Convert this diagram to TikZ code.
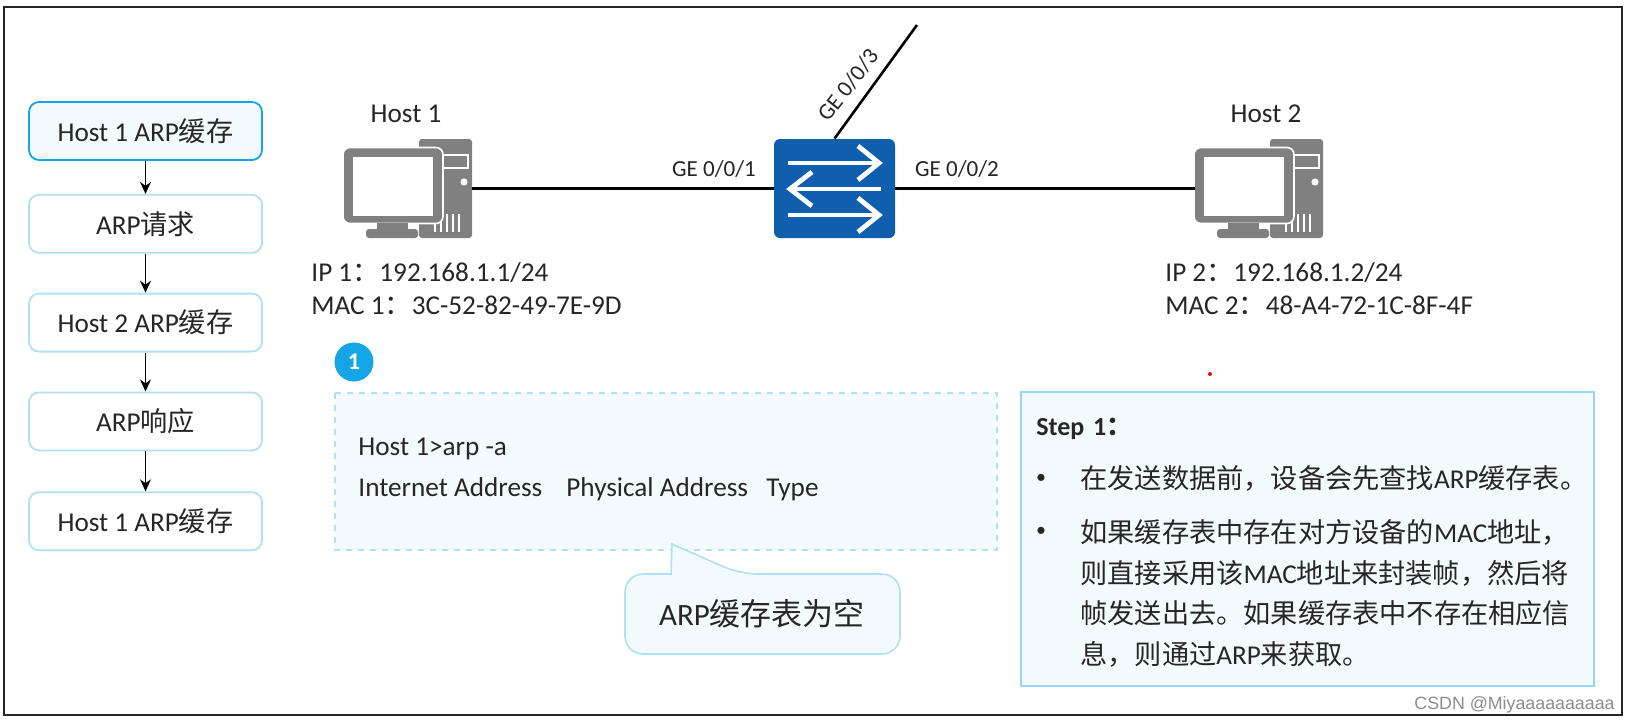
\documentclass[tikz,border=0pt]{standalone}
\usepackage{fontspec}
\setmainfont{Carlito}
\newfontfamily\zh{Noto Sans CJK SC}
\newfontfamily\wm{Liberation Sans}
\usetikzlibrary{arrows.meta, positioning}
\definecolor{skyline}{RGB}{176,224,243}
\definecolor{skyedge}{RGB}{20,165,230}
\definecolor{skyfill}{RGB}{242,250,253}
\definecolor{swblue}{RGB}{15,95,174}
\definecolor{pcgray}{RGB}{128,128,128}
\definecolor{inkgray}{RGB}{38,38,38}
\begin{document}
\begin{tikzpicture}[
        x=0.5pt, y=-0.5pt,
        every node/.style={text=inkgray},
        flow/.style={draw=skyline, line width=0.9pt, rounded corners=5pt, fill=white, minimum width=116.5pt, minimum height=29pt, inner sep=0pt, font=\fontsize{13.6}{16}\selectfont},
        flowon/.style={flow, draw=skyedge, fill=skyfill},
        flowarrow/.style={-{Stealth[length=6pt, width=5.5pt]}, line width=0.7pt, black},
        link/.style={line width=1.3pt, black},
        port/.style={font=\fontsize{11.5}{14}\selectfont},
        label/.style={anchor=west, inner sep=0pt, text height=9.5pt, text depth=3pt, font=\fontsize{13.6}{16}\selectfont},
        stepline/.style={anchor=west, inner sep=0pt, align=left, text width=232pt, font=\fontsize{13.6}{20.25}\selectfont},
        gray part/.style={fill=pcgray, rounded corners=1.5pt, inner sep=0pt},
        swarrow/.style={draw=white, line width=2.4pt},
      ]
      \useasboundingbox (0,0) rectangle (1630,724);
      \draw[line width=1.1pt, black!85] (4,7) rectangle (1622,715);

      % left column
      \node[flowon] (cache1) at (145.5,131) {Host 1 ARP{\zh 缓存}};
      \node[flow] (request) [below=16.5pt of cache1] {ARP{\zh 请求}};
      \node[flow] (cache2) [below=19.5pt of request] {Host 2 ARP{\zh 缓存}};
      \node[flow] (reply) [below=19.5pt of cache2] {ARP{\zh 响应}};
      \node[flow] (cache3) [below=20pt of reply] {Host 1 ARP{\zh 缓存}};
      \draw[flowarrow] (cache1) -- (request);
      \draw[flowarrow] (request) -- (cache2);
      \draw[flowarrow] (cache2) -- (reply);
      \draw[flowarrow] (reply) -- (cache3);

      % the two hosts
      \foreach \n/\dx in {1/0, 2/851} {
        \begin{scope}[shift={(\dx,0)}]
          \node[gray part, minimum width=26.5pt, minimum height=49.5pt] (tower\n) at (445.5,188.5) {};
          \node[gray part, draw=white, line width=0.6pt, rounded corners=0pt, minimum width=12.5pt, minimum height=6.5pt] (bay\n) at (455.5,161.5) {};
          \node[circle, fill=white, inner sep=0pt, minimum size=3.6pt] (led\n) at (464,182) {};
          \foreach \vx in {435,441,447,453,459}
            \draw[white, line width=0.6pt] (\vx,214) -- (\vx,232);
          \node[gray part, draw=white, line width=0.8pt, rounded corners=3.5pt, minimum width=50pt, minimum height=38pt] (screen\n) at (393,185.5) {};
          \node[fill=white, inner sep=0pt, minimum width=40pt, minimum height=29.5pt] (glass\n) at (393,186.5) {};
          \node[fill=pcgray, inner sep=0pt, minimum width=15.5pt, minimum height=3pt] (stand\n) at (392.5,226) {};
          \node[gray part, minimum width=26pt, minimum height=4.5pt] (foot\n) at (392,233.5) {};
        \end{scope}
      }
      \node[label, anchor=center] (host1) at (406,116) {Host 1};
      \node[label, anchor=center] (host2) at (1266,116) {Host 2};
      \node[label] (ip1) at (311,275) {IP 1{\zh ：}192.168.1.1/24};
      \node[label] (mac1) at (311,308) {MAC 1{\zh ：}3C-52-82-49-7E-9D};
      \node[label] (ip2) at (1165,275) {IP 2{\zh ：}192.168.1.2/24};
      \node[label] (mac2) at (1165,308) {MAC 2{\zh ：}48-A4-72-1C-8F-4F};

      % switch
      \node[fill=swblue, rounded corners=3pt, minimum width=60.5pt, minimum height=49.5pt, inner sep=0pt] (sw) at (834.5,188.5) {};
      \foreach \y in {163,215} {
        \draw[swarrow] (788,\y) -- (878,\y);
        \draw[swarrow] (858,\y-17) -- (879,\y) -- (858,\y+17);
      }
      \draw[swarrow] (881,189) -- (791,189);
      \draw[swarrow] (812,172) -- (790,189) -- (812,206);
      \coordinate (up) at (917,25);
      \draw[link] (tower1.east) -- (sw.west);
      \draw[link] (sw.east) -- ([xshift=1pt]sw.east -| screen2.west);
      \draw[link] (sw.north) -- (up);
      \node[port] (port1) at (714,169) {GE 0/0/1};
      \node[port] (port2) at (957,169) {GE 0/0/2};
      \node[port, rotate=52] (port3) at (848,85) {GE 0/0/3};

      % table
      \node[circle, fill=skyedge, inner sep=0pt, minimum size=19.5pt, text=white, font=\fontsize{12}{14}\selectfont\bfseries] (badge) at (354,362) {1};
      \draw[draw=skyline, line width=0.8pt, dashed, fill=skyfill] (335,393) rectangle (997,550);
      \node[label] (cmd) at (358,449) {Host 1>arp -a};
      \node[label] (col1) at (358,490) {Internet Address};
      \node[label] (col2) at (566,490) {Physical Address};
      \node[label] (col3) at (766,490) {Type};
      \draw[draw=skyline, line width=0.8pt, fill=skyfill] [rounded corners=9pt] (671,574) -- (625,574) -- (625,654) -- (900,654) -- (900,574) -- (740,574) [sharp corners] -- (672,544) -- cycle;
      \node[font=\fontsize{15.5}{18}\selectfont] (empty) at (762,614) {ARP{\zh 缓存表为空}};

      % step text
      \draw[draw=skyline!85!skyedge, line width=1pt, fill=skyfill] (1021,392) rectangle (1594,686);
      \node[stepline, font=\fontsize{13}{16}\selectfont\bfseries] (steptitle) at (1036,429) {Step 1{\zh ：}};
      \node[inner sep=0pt, font=\fontsize{10}{10}\selectfont] (dot1) at (1041,479) {•};
      \node[inner sep=0pt, font=\fontsize{10}{10}\selectfont] (dot2) at (1041,532) {•};
      \node[stepline] (step1) at (1080,478) {{\zh 在发送数据前，设备会先查找}ARP{\zh 缓存表。}};
      \node[stepline] (step2) at (1080,593.5) {{\zh 如果缓存表中存在对方设备的}MAC{\zh 地址，}\\{\zh 则直接采用该}MAC{\zh 地址来封装帧，然后将}\\{\zh 帧发送出去。如果缓存表中不存在相应信}\\{\zh 息，则通过}ARP{\zh 来获取。}};

      \node[circle, fill=red, inner sep=0pt, minimum size=2pt] (mark) at (1210,374) {};
      \node[anchor=east, inner sep=0pt, text=black!45, font=\wm\fontsize{8.9}{12}\selectfont] (csdn) at (1615,705) {CSDN @Miyaaaaaaaaaa};
    \end{tikzpicture}
\end{document}
